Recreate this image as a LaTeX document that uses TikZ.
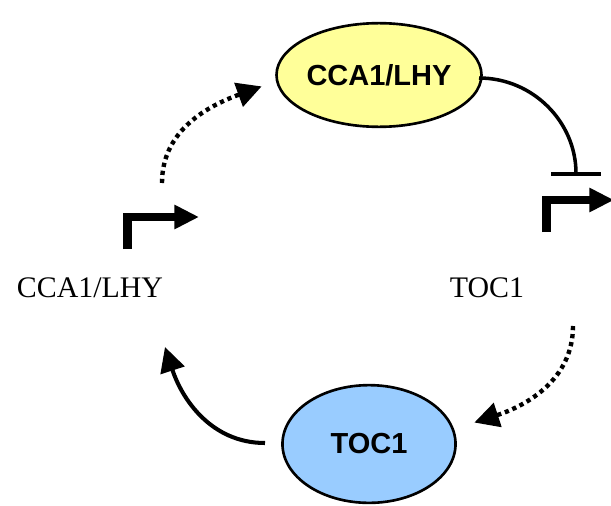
\documentclass[tikz,border=0pt]{standalone}
\usepackage{fontspec}
\setmainfont{Liberation Serif}
\setsansfont{Liberation Sans}
\usetikzlibrary{arrows.meta,shapes.geometric}

\definecolor{protyellow}{HTML}{FFFF99}
\definecolor{protblue}{HTML}{99CCFF}

\tikzset{
  protein/.style={ellipse, draw, line width=1.5pt, inner sep=0pt,
    font=\sffamily\bfseries\fontsize{16.5}{18}\selectfont},
  gene/.style={font=\fontsize{17}{19}\selectfont},
  promoter/.style={line width=5pt, line join=miter,
    -{Triangle[length=14pt,width=13pt]}},
  translate/.style={line width=2.5pt, dash pattern=on 2.4pt off 2.2pt,
    -{Triangle[length=14pt,width=14pt]}, shorten >=-1pt},
  activate/.style={line width=2.3pt, -{Triangle[length=14pt,width=14pt]}},
  repress/.style={line width=2pt, -{Bar[width=28pt,line width=2pt]}}
}

\begin{document}
\begin{tikzpicture}[x=0.02cm,y=0.02cm]
\useasboundingbox (0,0) rectangle (611,505);
 % proteins
 \node[protein, fill=protyellow, minimum width=99.5pt, minimum height=59pt] (cca) at (379,430) {CCA1/LHY};
 \node[protein, fill=protblue, minimum width=98.5pt, minimum height=67pt] (toc) at (369,61) {TOC1};
 % genes
 \node[gene] (ccagene) at (90,217) {CCA1/LHY};
 \node[gene] (tocgene) at (487,217) {TOC1};
 % promoters
 \coordinate (pl0) at (127.5,256);
 \coordinate (pl1) at (127.5,288);
 \coordinate (pl2) at (199,288);
 \coordinate (pr0) at (546.5,273);
 \coordinate (pr1) at (546.5,305);
 \coordinate (pr2) at (614,305);
 \draw[promoter] (pl0) -- (pl1) -- (pl2);
 \draw[promoter] (pr0) -- (pr1) -- (pr2);
 % loop
 \coordinate (l0) at (162,322);
 \coordinate (l1) at (260,418);
 \coordinate (r0) at (573,179);
 \coordinate (r1) at (476,83);
 \coordinate (b0) at (265,62);
 \coordinate (b1) at (165,158);
 \coordinate (i0) at (479,427);
 \coordinate (i1) at (576,329);
 \draw[translate] (l0) to[out=90,in=200] (l1);
 \draw[translate] (r0) to[out=-90,in=18] (r1);
 \draw[activate] (b0) to[out=180,in=-72] (b1);
 \draw[repress] (i0) to[out=0,in=90] (i1);
\end{tikzpicture}
\end{document}
